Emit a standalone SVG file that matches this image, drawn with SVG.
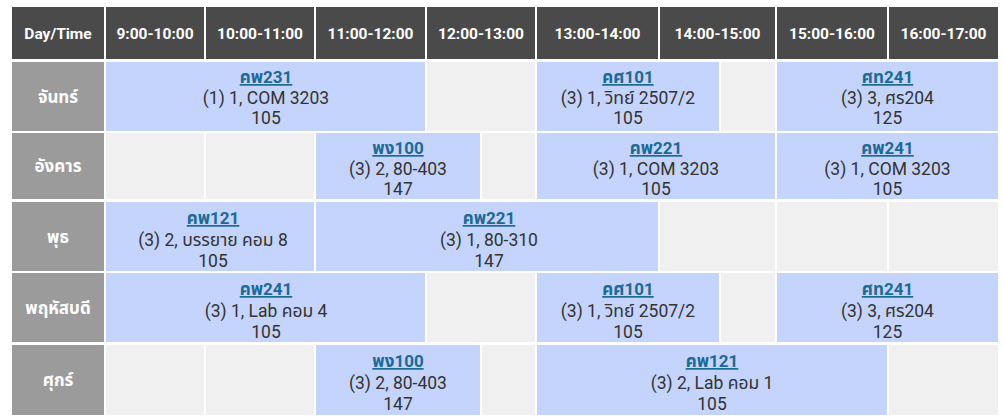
<svg xmlns="http://www.w3.org/2000/svg" width="1004" height="419" viewBox="0 0 1004 419">
<style>
.bg{fill:#ffffff}
.hd{fill:#4a4a4a}
.day{fill:#9b9b9b}
.crs{fill:#c4d4fc}
.emp{fill:#f0f0f0}
.ht{font-family:Roboto,"Liberation Sans","Noto Sans Thai",sans-serif;font-size:15.5px;font-weight:bold;fill:#ffffff;text-anchor:middle}
.dt{font-family:"Noto Sans Thai",Roboto,"Noto Sans",sans-serif;font-size:17px;font-weight:bold;fill:#ffffff;text-anchor:middle}
.code{font-family:Roboto,"Noto Sans Thai","Noto Sans",sans-serif;font-size:17px;font-weight:bold;fill:#1d6a96;text-anchor:middle;text-decoration:underline}
.tx{font-family:Roboto,"Noto Sans Thai","Noto Sans",sans-serif;font-size:17.5px;fill:#333333;text-anchor:middle}
</style>
<rect class="bg" x="0" y="0" width="1004" height="419"/>
<g id="header">
<rect class="hd" x="12" y="7" width="92" height="52"/><text class="ht" x="58" y="38.5">Day/Time</text>
<rect class="hd" x="106" y="7" width="98" height="52"/><text class="ht" x="155" y="38.5">9:00-10:00</text>
<rect class="hd" x="206" y="7" width="108" height="52"/><text class="ht" x="260" y="38.5">10:00-11:00</text>
<rect class="hd" x="316" y="7" width="109" height="52"/><text class="ht" x="370.5" y="38.5">11:00-12:00</text>
<rect class="hd" x="427" y="7" width="108" height="52"/><text class="ht" x="481" y="38.5">12:00-13:00</text>
<rect class="hd" x="537" y="7" width="121" height="52"/><text class="ht" x="597.5" y="38.5">13:00-14:00</text>
<rect class="hd" x="660" y="7" width="115" height="52"/><text class="ht" x="717.5" y="38.5">14:00-15:00</text>
<rect class="hd" x="777" y="7" width="110" height="52"/><text class="ht" x="832" y="38.5">15:00-16:00</text>
<rect class="hd" x="889" y="7" width="109" height="52"/><text class="ht" x="943.5" y="38.5">16:00-17:00</text>
</g>
<g id="row-mon">
<rect class="day" x="12" y="62" width="92" height="69"/><text class="dt" x="58" y="103">จันทร์</text>
<g id="mon-cp231"><rect class="crs" x="106" y="62" width="319" height="69"/>
<text class="code" x="266" y="83">คพ231</text><text class="tx" x="266" y="104">(1) 1, COM 3203</text><text class="tx" x="266" y="124">105</text></g>
<rect class="emp" x="427" y="62" width="108" height="69"/>
<g id="mon-cs101"><rect class="crs" x="537" y="62" width="182" height="69"/>
<text class="code" x="628" y="83">คศ101</text><text class="tx" x="628" y="104">(3) 1, วิทย์ 2507/2</text><text class="tx" x="628" y="124">105</text></g>
<rect class="emp" x="721" y="62" width="54" height="69"/>
<g id="mon-st241"><rect class="crs" x="777" y="62" width="221" height="69"/>
<text class="code" x="887.5" y="83">ศท241</text><text class="tx" x="887.5" y="104">(3) 3, ศร204</text><text class="tx" x="887.5" y="124">125</text></g>
</g>
<g id="row-tue">
<rect class="day" x="12" y="133" width="92" height="66"/><text class="dt" x="58" y="172">อังคาร</text>
<rect class="emp" x="106" y="133" width="98" height="66"/>
<rect class="emp" x="206" y="133" width="108" height="66"/>
<g id="tue-pg100"><rect class="crs" x="316" y="133" width="164" height="66"/>
<text class="code" x="398" y="154">พง100</text><text class="tx" x="398" y="175">(3) 2, 80-403</text><text class="tx" x="398" y="195">147</text></g>
<rect class="emp" x="482" y="133" width="53" height="66"/>
<g id="tue-cp221"><rect class="crs" x="537" y="133" width="238" height="66"/>
<text class="code" x="656" y="154">คพ221</text><text class="tx" x="656" y="175">(3) 1, COM 3203</text><text class="tx" x="656" y="195">105</text></g>
<g id="tue-cp241"><rect class="crs" x="777" y="133" width="221" height="66"/>
<text class="code" x="887.5" y="154">คพ241</text><text class="tx" x="887.5" y="175">(3) 1, COM 3203</text><text class="tx" x="887.5" y="195">105</text></g>
</g>
<g id="row-wed">
<rect class="day" x="12" y="202" width="92" height="69"/><text class="dt" x="58" y="243">พุธ</text>
<g id="wed-cp121"><rect class="crs" x="106" y="202" width="208" height="69"/>
<text class="code" x="213" y="224">คพ121</text><text class="tx" x="213" y="246">(3) 2, บรรยาย คอม 8</text><text class="tx" x="213" y="267">105</text></g>
<g id="wed-cp221"><rect class="crs" x="316" y="202" width="342" height="69"/>
<text class="code" x="489" y="224">คพ221</text><text class="tx" x="489" y="246">(3) 1, 80-310</text><text class="tx" x="489" y="267">147</text></g>
<rect class="emp" x="660" y="202" width="115" height="69"/>
<rect class="emp" x="777" y="202" width="110" height="69"/>
<rect class="emp" x="889" y="202" width="109" height="69"/>
</g>
<g id="row-thu">
<rect class="day" x="12" y="273" width="92" height="69"/><text class="dt" x="58" y="314">พฤหัสบดี</text>
<g id="thu-cp241"><rect class="crs" x="106" y="273" width="319" height="69"/>
<text class="code" x="266" y="295">คพ241</text><text class="tx" x="266" y="317">(3) 1, Lab คอม 4</text><text class="tx" x="266" y="338">105</text></g>
<rect class="emp" x="427" y="273" width="108" height="69"/>
<g id="thu-cs101"><rect class="crs" x="537" y="273" width="182" height="69"/>
<text class="code" x="628" y="295">คศ101</text><text class="tx" x="628" y="317">(3) 1, วิทย์ 2507/2</text><text class="tx" x="628" y="338">105</text></g>
<rect class="emp" x="721" y="273" width="54" height="69"/>
<g id="thu-st241"><rect class="crs" x="777" y="273" width="221" height="69"/>
<text class="code" x="887.5" y="295">ศท241</text><text class="tx" x="887.5" y="317">(3) 3, ศร204</text><text class="tx" x="887.5" y="338">125</text></g>
</g>
<g id="row-fri">
<rect class="day" x="12" y="345" width="92" height="70"/><text class="dt" x="58" y="386">ศุกร์</text>
<rect class="emp" x="106" y="345" width="98" height="70"/>
<rect class="emp" x="206" y="345" width="108" height="70"/>
<g id="fri-pg100"><rect class="crs" x="316" y="345" width="164" height="70"/>
<text class="code" x="398" y="367">พง100</text><text class="tx" x="398" y="389">(3) 2, 80-403</text><text class="tx" x="398" y="410">147</text></g>
<rect class="emp" x="482" y="345" width="53" height="70"/>
<g id="fri-cp121"><rect class="crs" x="537" y="345" width="350" height="70"/>
<text class="code" x="712" y="367">คพ121</text><text class="tx" x="712" y="389">(3) 2, Lab คอม 1</text><text class="tx" x="712" y="410">105</text></g>
<rect class="emp" x="889" y="345" width="109" height="70"/>
</g>
</svg>
